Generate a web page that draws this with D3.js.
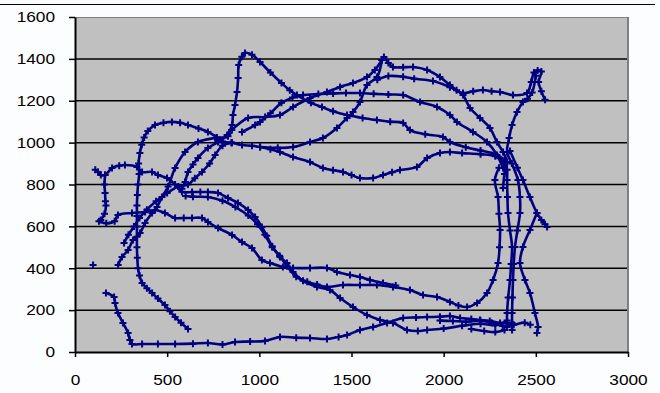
<!DOCTYPE html>
<html><head><meta charset="utf-8">
<script src="https://cdn.jsdelivr.net/npm/d3@7"></script>
<style>body{margin:0;background:#fcfdfe;}svg{display:block;}</style>
</head><body>
<script>
const xTicks = [0,500,1000,1500,2000,2500,3000];
const yTicks = [0,200,400,600,800,1000,1200,1400,1600];

const trackBottom = [[168,282],[212,263],[217,234],[233,186],[260,139],[288,91],[298,57],[309,38],[364,38],[450,38],[543,38],[640,40],[721,43],[800,36],[868,48],[950,50],[1031,53],[1112,72],[1200,68],[1275,67],[1367,62],[1430,72],[1476,81],[1546,105],[1617,119],[1693,139],[1780,162],[1850,165],[1910,167],[1980,168],[2034,172],[2089,162],[2150,158],[2197,153],[2250,148],[2306,139],[2371,139]];
const trackLoop = [[613,110],[575,140],[543,167],[515,195],[488,224],[450,255],[418,282],[390,305],[364,330],[350,365],[342,400],[338,450],[336,500],[336,550],[336,600],[336,650],[336,700],[338,750],[342,800],[348,850],[345,900],[352,950],[362,990],[375,1025],[395,1055],[434,1084],[480,1095],[526,1099],[570,1095],[613,1084],[670,1068],[721,1051],[770,1025],[800,1005],[850,1000]];
const trackPeakA = [[580,780],[597,812],[613,860],[640,895],[667,927],[721,974],[776,1003],[825,1036],[852,1084],[857,1132],[868,1180],[879,1242],[885,1309],[888,1371],[905,1410],[922,1428],[960,1420],[1004,1385],[1060,1335],[1120,1285],[1165,1250],[1204,1227],[1280,1190],[1340,1170],[1400,1150],[1476,1132],[1560,1118],[1638,1108],[1710,1100],[1780,1094],[1817,1060],[1900,1040],[1996,1027],[2034,1003],[2120,978],[2200,962],[2280,945],[2330,915],[2344,870],[2344,821],[2346,740],[2349,664],[2360,580],[2371,502],[2366,420],[2360,344],[2350,260],[2344,186],[2344,119]];
const trackPeakB = [[850,1060],[939,1118],[1031,1122],[1112,1132],[1183,1170],[1275,1213],[1367,1242],[1438,1266],[1508,1285],[1584,1313],[1627,1347],[1665,1395],[1676,1409],[1700,1380],[1725,1361],[1780,1360],[1834,1361],[1910,1347],[1980,1313],[2034,1275],[2070,1250],[2105,1227],[2143,1165],[2197,1118],[2251,1070],[2289,1003],[2322,955],[2344,907],[2330,850],[2322,783]];
const trackUpperRight = [[1640,1300],[1700,1318],[1780,1315],[1840,1305],[1942,1294],[2034,1265],[2105,1237],[2160,1245],[2213,1251],[2260,1245],[2306,1242],[2376,1227],[2452,1237],[2475,1290],[2490,1335],[2510,1345],[2530,1340],[2515,1290],[2530,1245],[2550,1205]];
const trackRightDown = [[2500,1320],[2480,1240],[2455,1210],[2430,1194],[2398,1146],[2371,1084],[2355,1022],[2344,955],[2370,900],[2403,821],[2414,740],[2414,664],[2400,580],[2387,502],[2380,420],[2376,344],[2373,260],[2371,186],[2371,105]];
const trackRightBump = [[2360,960],[2400,880],[2430,821],[2468,740],[2506,664],[2530,630],[2550,610],[2561,597]];
const trackRightEdge = [[2506,664],[2468,583],[2430,502],[2414,425],[2441,344],[2468,282],[2495,186],[2512,119],[2506,91]];
const trackMid1230 = [[906,1051],[977,1084],[1004,1099],[1060,1140],[1120,1190],[1180,1215],[1237,1227],[1320,1232],[1400,1235],[1470,1237],[1546,1237],[1620,1233],[1700,1230],[1780,1227],[1872,1194],[1964,1170],[2034,1132],[2072,1099],[2159,1051],[2235,1003],[2289,941],[2322,879]];
const trackRise = [[1004,979],[1100,975],[1183,979],[1275,1003],[1345,1022],[1421,1070],[1476,1118],[1508,1146],[1546,1194],[1584,1275],[1638,1313],[1665,1395]];
const trackDip = [[850,1000],[906,989],[960,985],[1004,979],[1060,968],[1112,955],[1183,931],[1275,907],[1345,879],[1400,868],[1454,860],[1500,845],[1546,831],[1617,831],[1671,845],[1720,858],[1763,869],[1855,884],[1910,926],[1980,950],[2034,955],[2100,950],[2200,945],[2280,935],[2330,900]];
const trackLeftCross = [[110,870],[125,860],[140,845],[163,845],[201,879],[240,890],[271,893],[336,884],[364,860],[418,860],[450,845],[499,831],[543,800],[580,765],[635,764],[680,764],[721,764],[776,759],[830,735],[884,712],[939,678],[977,645],[1014,597],[1040,555],[1070,505],[1112,454],[1150,425],[1183,382],[1237,340],[1313,311],[1383,296],[1438,258],[1508,215],[1584,177],[1655,153],[1725,139],[1801,105],[1860,100],[1910,105],[2000,112],[2100,125],[2200,135],[2280,128],[2344,150]];
const trackMidLow = [[600,745],[640,742],[721,740],[800,722],[870,692],[940,652],[990,610],[1030,560],[1070,500],[1110,460],[1150,410],[1200,360],[1260,335],[1313,322],[1367,311],[1454,320],[1546,320],[1638,320],[1725,311],[1817,296],[1888,272],[1964,263],[2034,239],[2080,222],[2127,215],[2181,234],[2235,282],[2268,344],[2295,425],[2303,500],[2306,583],[2300,660],[2295,740],[2278,821],[2300,880]];
const trackLeft640 = [[130,625],[170,615],[215,625],[233,654],[309,664],[380,669],[434,678],[488,664],[543,640],[590,640],[635,640],[689,640],[721,621],[776,592],[852,559],[906,525],[960,497],[1014,439],[1058,425],[1128,406],[1183,401],[1275,401],[1367,401],[1421,382],[1492,368],[1546,358],[1600,344],[1671,330],[1740,318]];
const trackLeftVert = [[163,845],[160,800],[163,760],[165,720],[168,700],[160,660],[140,630]];
const trackDiagA = [[234,416],[255,454],[288,487],[315,535],[353,568],[380,616],[418,664],[445,693],[472,740],[505,790],[543,879],[597,955],[667,1003],[760,1022],[830,1030],[850,1060]];
const trackDiagB = [[266,521],[290,560],[320,600],[350,640],[390,680],[440,720],[500,760],[560,790],[613,800],[650,830],[689,860],[730,900],[760,941],[800,985],[850,1000]];
const trackBottomRight = [[1980,150],[2050,148],[2120,145],[2200,150],[2260,140],[2320,125],[2380,130],[2440,140],[2470,130]];
const trackBottomRight2 = [[2150,110],[2220,100],[2280,95],[2330,105]];
const strayPoints = [[98,416]];

const tracks = [trackBottom,trackLoop,trackPeakA,trackPeakB,trackUpperRight,trackRightDown,trackRightBump,trackRightEdge,trackMid1230,trackRise,trackDip,trackLeftCross,trackMidLow,trackLeft640,trackLeftVert,trackDiagA,trackDiagB,trackBottomRight,trackBottomRight2];

const W=660,H=393, L=75,R=628,T=17,B=352;
const x=d3.scaleLinear().domain([0,3000]).range([L,R]);
const y=d3.scaleLinear().domain([0,1600]).range([B,T]);
const navy="#000080";

const svg=d3.select("body").append("svg").attr("width",W).attr("height",H);
svg.append("rect").attr("width",W).attr("height",H).attr("fill","#fcfdfe");
svg.append("line").attr("x1",0).attr("x2",655).attr("y1",4.5).attr("y2",4.5).attr("stroke","#000").attr("stroke-width",1);

svg.append("rect").attr("x",L).attr("y",T).attr("width",R-L).attr("height",B-T).attr("fill","#c0c0c0");
svg.append("g").selectAll("line").data(yTicks.filter(v=>v>0&&v<1600)).join("line")
  .attr("x1",L).attr("x2",R).attr("y1",d=>y(d)).attr("y2",d=>y(d))
  .attr("stroke","#000").attr("stroke-width",1.5);
svg.append("line").attr("x1",L).attr("x2",R).attr("y1",T+0.5).attr("y2",T+0.5).attr("stroke","#808080").attr("stroke-width",1);
svg.append("line").attr("x1",R).attr("x2",R).attr("y1",T).attr("y2",B).attr("stroke","#808080").attr("stroke-width",2);

svg.append("clipPath").attr("id","clip").append("rect").attr("x",L).attr("y",T).attr("width",R-L).attr("height",B-T);
const data=svg.append("g").attr("clip-path","url(#clip)");
const line=d3.line().x(d=>x(d[0])).y(d=>y(d[1])).curve(d3.curveCatmullRom);
data.selectAll("path.trk").data(tracks).join("path").attr("class","trk")
  .attr("d",line).attr("fill","none").attr("stroke",navy).attr("stroke-width",2.6);
const pts=tracks.flat().concat(strayPoints);
data.selectAll("path.mk").data(pts).join("path").attr("class","mk")
  .attr("transform",d=>`translate(${x(d[0])},${y(d[1])})`)
  .attr("d","M-3.5,0H3.5M0,-3.5V3.5").attr("stroke",navy).attr("stroke-width",2).attr("fill","none");

const fontStyle = g=>{
  g.selectAll("text").attr("font-family","'Liberation Sans', Arial, sans-serif").attr("font-size",15).attr("fill","#000")
   .each(function(){const w=this.getComputedTextLength(); d3.select(this).attr("textLength",w*1.15).attr("lengthAdjust","spacingAndGlyphs");});
  g.selectAll("line").attr("stroke","#000").attr("stroke-width",1.5);
  g.select(".domain").attr("stroke","#000").attr("stroke-width",2);
};
svg.append("g").attr("transform",`translate(${L},0)`)
  .call(d3.axisLeft(y).tickValues(yTicks).tickSize(6).tickSizeOuter(0).tickPadding(14).tickFormat(d3.format("d")))
  .call(fontStyle);
svg.append("g").attr("transform",`translate(0,${B})`)
  .call(d3.axisBottom(x).tickValues(xTicks).tickSize(5).tickSizeOuter(0).tickPadding(17).tickFormat(d3.format("d")))
  .call(fontStyle);
</script>
</body></html>
